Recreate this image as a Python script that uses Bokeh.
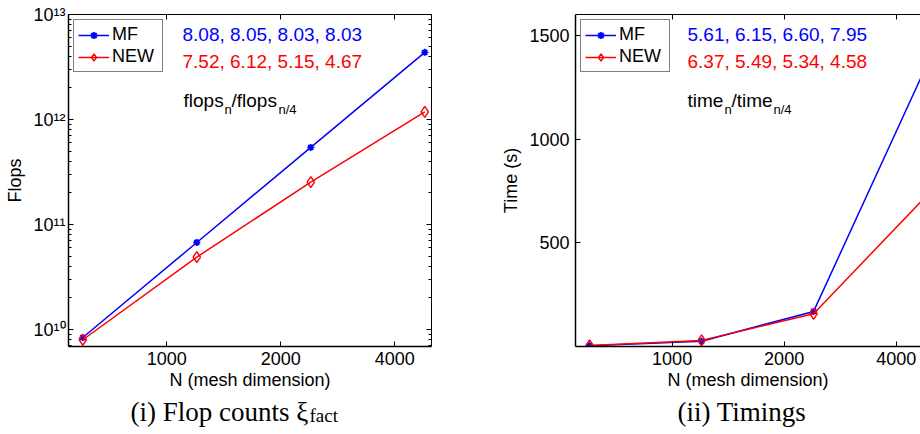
from bokeh.plotting import figure
from bokeh.layouts import row, column
from bokeh.models import (FixedTicker, LogAxis, Label, Legend, LegendItem,
                          CustomJSTickFormatter, NumeralTickFormatter, Range1d)
from bokeh.embed import file_html
from bokeh.resources import INLINE

# ---------------- data ----------------
N = [600, 1200, 2400, 4800]
flops_mf = [8.4e9, 6.75e10, 5.43e11, 4.36e12]
flops_new = [8.0e9, 4.9e10, 2.53e11, 1.18e12]
time_mf = [4.2, 25.6, 169, 1345]
time_new = [5.4, 29.5, 157.6, 722]

ratio_flops_mf = "8.08, 8.05, 8.03, 8.03"
ratio_flops_new = "7.52, 6.12, 5.15, 4.67"
ratio_time_mf = "5.61, 6.15, 6.60, 7.95"
ratio_time_new = "6.37, 5.49, 5.34, 4.58"

x_ticks = [1000, 2000, 4000]
flops_ticks = [1e10, 1e11, 1e12, 1e13]
flops_minor = [m * 10.0 ** e for e in range(9, 13) for m in range(2, 10)]
time_ticks = [500, 1000, 1500]

series_names = ["MF", "NEW"]
caption_left = "(i) Flop counts ξ"
caption_left_sub = "fact"
caption_right = "(ii) Timings"

# ---------------- style ----------------
SANS = "Liberation Sans"
SERIF = "Liberation Serif"
BLUE = "#0000ff"
RED = "#ff0000"
H = 398
CAP_H = 434 - H
TOP = 14
FRAME_H = 332
FRAME_BOTTOM = TOP + FRAME_H

SUP_JS = """
const sup = {"0":"\u2070","1":"\u00b9","2":"\u00b2","3":"\u00b3","4":"\u2074","5":"\u2075","6":"\u2076","7":"\u2077","8":"\u2078","9":"\u2079","-":"\u207b"};
const e = Math.round(Math.log10(tick));
return "10" + String(e).split("").map(c => sup[c]).join("");
"""


def style_axis(ax, lw=1.3):
    ax.axis_line_width = lw
    ax.axis_line_color = "black"
    ax.major_tick_in = 5
    ax.major_tick_out = 0
    ax.minor_tick_in = 3
    ax.minor_tick_out = 0
    ax.major_tick_line_color = "black"
    ax.minor_tick_line_color = "black"
    ax.major_label_text_font = SANS
    ax.major_label_text_font_size = "18px"
    ax.major_label_text_color = "black"
    ax.axis_label_text_font = SANS
    ax.axis_label_text_font_size = "18px"
    ax.axis_label_text_font_style = "normal"
    ax.axis_label_text_color = "black"


def blank_axis(ax):
    style_axis(ax, 1.0)
    ax.formatter = CustomJSTickFormatter(code="return ''")
    ax.major_label_text_font_size = "0px"
    ax.major_label_standoff = 0


def add_text(p, text, px, py, frame_left, size, color="black", font=SANS,
             baseline="middle", frame_bottom=FRAME_BOTTOM):
    p.add_layout(Label(x=px - frame_left, y=frame_bottom - py,
                       x_units="screen", y_units="screen", text=text,
                       text_font=font, text_font_size=f"{size}px",
                       text_color=color, text_baseline=baseline,
                       text_align="left"))


def add_series(p, x, y_mf, y_new):
    l1 = p.line(x, y_mf, line_color=BLUE, line_width=1.5)
    s1 = p.scatter(x, y_mf, marker="asterisk", size=7, line_color=BLUE,
                   line_width=1.8)
    l2 = p.line(x, y_new, line_color=RED, line_width=1.5)
    s2 = p.scatter(x, y_new, marker="diamond", size=11, line_color=RED,
                   fill_color=None, line_width=1.4)
    legend = Legend(items=[LegendItem(label=series_names[0], renderers=[l1, s1]),
                           LegendItem(label=series_names[1], renderers=[l2, s2])],
                    location="top_left", margin=5, padding=4, spacing=1,
                    glyph_width=31, glyph_height=18, label_height=18,
                    label_width=46, label_standoff=3, label_text_font=SANS,
                    label_text_color="black",
                    label_text_font_size="18px", border_line_color="black",
                    border_line_width=1.2, background_fill_color="white",
                    background_fill_alpha=1)
    p.add_layout(legend)


def base_fig(width, left, right, x_end, y_type, y_range):
    p = figure(width=width, height=H, x_axis_type="log", y_axis_type=y_type,
               x_range=Range1d(550, x_end), y_range=y_range,
               output_backend="svg", toolbar_location=None,
               min_border_left=left, min_border_right=right,
               min_border_top=TOP, min_border_bottom=H - FRAME_BOTTOM)
    p.grid.visible = False
    p.outline_line_color = None
    p.background_fill_color = "white"
    p.border_fill_color = "white"
    xa = p.xaxis[0]
    style_axis(xa, 1.5)
    xa.ticker = FixedTicker(ticks=x_ticks, minor_ticks=[])
    xa.formatter = NumeralTickFormatter(format="0")
    xa.major_label_standoff = 5
    xa.axis_label = "N (mesh dimension)"
    xa.axis_label_standoff = 2
    top = LogAxis(ticker=FixedTicker(ticks=x_ticks, minor_ticks=[]))
    blank_axis(top)
    p.add_layout(top, "above")
    return p


def caption_fig(width):
    c = figure(width=width, height=CAP_H, output_backend="svg",
               toolbar_location=None, x_axis_type=None, y_axis_type=None,
               x_range=Range1d(0, 1), y_range=Range1d(0, 1),
               min_border=0, min_border_left=0, min_border_right=0,
               min_border_top=0, min_border_bottom=0)
    c.grid.visible = False
    c.outline_line_color = None
    c.background_fill_color = "white"
    c.border_fill_color = "white"
    return c


# ---------------- left: flops ----------------
L1 = 68
p1 = base_fig(470, L1, 39, 5000, "log", Range1d(6.9e9, 1e13))
ya = p1.yaxis[0]
style_axis(ya, 1.5)
ya.ticker = FixedTicker(ticks=flops_ticks, minor_ticks=flops_minor)
ya.formatter = CustomJSTickFormatter(code=SUP_JS)
ya.major_label_standoff = 3
ya.axis_label = "Flops"
ya.axis_label_standoff = 5
ra = LogAxis(ticker=FixedTicker(ticks=flops_ticks, minor_ticks=flops_minor))
blank_axis(ra)
p1.add_layout(ra, "right")
add_series(p1, N, flops_mf, flops_new)

add_text(p1, ratio_flops_mf, 182, 34, L1, 19, BLUE)
add_text(p1, ratio_flops_new, 182, 61, L1, 19, RED)
add_text(p1, "flops", 183, 100, L1, 19, baseline="alphabetic")
add_text(p1, "n", 224, 109, L1, 13, baseline="alphabetic")
add_text(p1, "/flops", 231, 100, L1, 19, baseline="alphabetic")
add_text(p1, "n/4", 278, 109, L1, 13, baseline="alphabetic")

# ---------------- right: timings ----------------
L2 = 105
p2 = base_fig(450, L2, 0, 4650, "linear", Range1d(0, 1600))
yb = p2.yaxis[0]
style_axis(yb, 1.5)
yb.ticker = FixedTicker(ticks=time_ticks, minor_ticks=[])
yb.major_label_standoff = 6
yb.axis_label = "Time (s)"
yb.axis_label_standoff = 5
add_series(p2, N, time_mf, time_new)

add_text(p2, ratio_time_mf, 687, 34, 470 + L2, 19, BLUE)
add_text(p2, ratio_time_new, 687, 61, 470 + L2, 19, RED)
add_text(p2, "time", 687, 100, 470 + L2, 19, baseline="alphabetic")
add_text(p2, "n", 724, 109, 470 + L2, 13, baseline="alphabetic")
add_text(p2, "/time", 731, 100, 470 + L2, 19, baseline="alphabetic")
add_text(p2, "n/4", 773, 109, 470 + L2, 13, baseline="alphabetic")

# ---------------- captions ----------------
c1 = caption_fig(470)
add_text(c1, caption_left, 130, 411 - H, 0, 27, font=SERIF,
         baseline="alphabetic", frame_bottom=CAP_H)
add_text(c1, caption_left_sub, 309, 415 - H, 0, 19, font=SERIF,
         baseline="alphabetic", frame_bottom=CAP_H)
c2 = caption_fig(450)
add_text(c2, caption_right, 677 - 470, 411 - H, 0, 27, font=SERIF,
         baseline="alphabetic", frame_bottom=CAP_H)

layout = column(row(p1, p2), row(c1, c2))
open("out.html", "w").write(file_html(layout, INLINE))
